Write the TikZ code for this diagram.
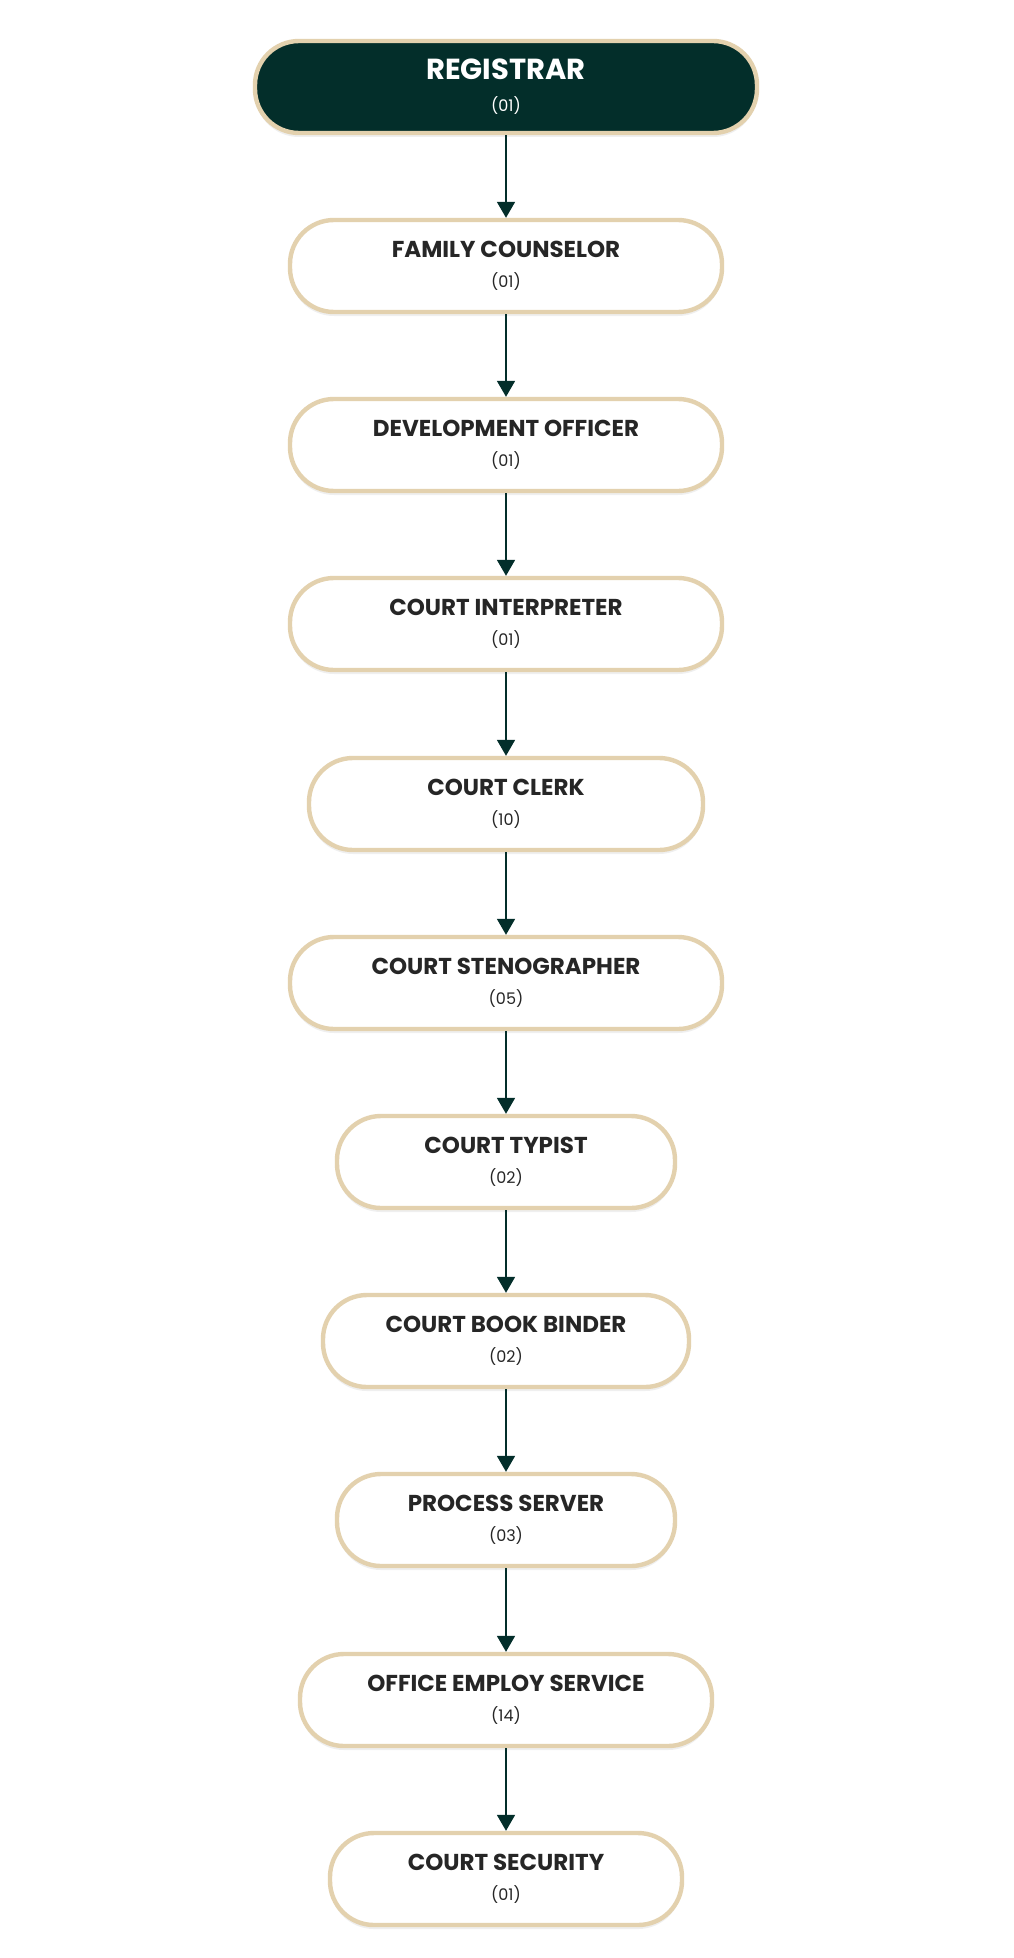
\documentclass[tikz,border=0pt]{standalone}
\usepackage{fontspec}
\setmainfont{Poppins}
\usetikzlibrary{shadows,arrows.meta}
\definecolor{sand}{HTML}{E3D1AE}
\definecolor{pine}{HTML}{032E2A}
\tikzstyle{post}=[rectangle,rounded corners=22pt,draw=sand,line width=2.2pt,fill=white,minimum height=46pt,align=center,inner sep=0pt,font=\fontsize{11.5}{14}\selectfont\bfseries,text=black!85,drop shadow={opacity=0.12,shadow xshift=0pt,shadow yshift=-2pt}]
\tikzstyle{head}=[post,fill=pine,text=white,font=\fontsize{14.5}{15}\selectfont\bfseries]
\tikzstyle{link}=[draw=pine,line width=0.9pt,-{Triangle[length=8pt,width=9pt]}]
\newcommand{\cnt}[1]{\\[1pt]{\fontsize{8}{9}\selectfont\mdseries(#1)}}
\begin{document}
\begin{tikzpicture}[x=0.5pt,y=-0.5pt]
\useasboundingbox[fill=white] (0,0) rectangle (1013,1958);

        \draw (506,87)   node[head,minimum width=251pt](r){REGISTRAR\cnt{01}};
        \draw (506,266)  node[post,minimum width=216pt](p1){FAMILY COUNSELOR\cnt{01}};
        \draw (506,445)  node[post,minimum width=216pt](p2){DEVELOPMENT OFFICER\cnt{01}};
        \draw (506,624)  node[post,minimum width=216pt](p3){COURT INTERPRETER\cnt{01}};
        \draw (506,804)  node[post,minimum width=197pt](p4){COURT CLERK\cnt{10}};
        \draw (506,983)  node[post,minimum width=216pt](p5){COURT STENOGRAPHER\cnt{05}};
        \draw (506,1162) node[post,minimum width=169pt](p6){COURT TYPIST\cnt{02}};
        \draw (506,1341) node[post,minimum width=183pt](p7){COURT BOOK BINDER\cnt{02}};
        \draw (506,1520) node[post,minimum width=169pt](p8){PROCESS SERVER\cnt{03}};
        \draw (506,1700) node[post,minimum width=206pt](p9){OFFICE EMPLOY SERVICE\cnt{14}};
        \draw (506,1879) node[post,minimum width=176pt](p10){COURT SECURITY\cnt{01}};
        %
        \draw[link] (r)  -- (p1);
        \foreach \a/\b in {1/2,2/3,3/4,4/5,5/6,6/7,7/8,8/9,9/10}
            \draw[link] (p\a) -- (p\b);
\end{tikzpicture}
\end{document}
